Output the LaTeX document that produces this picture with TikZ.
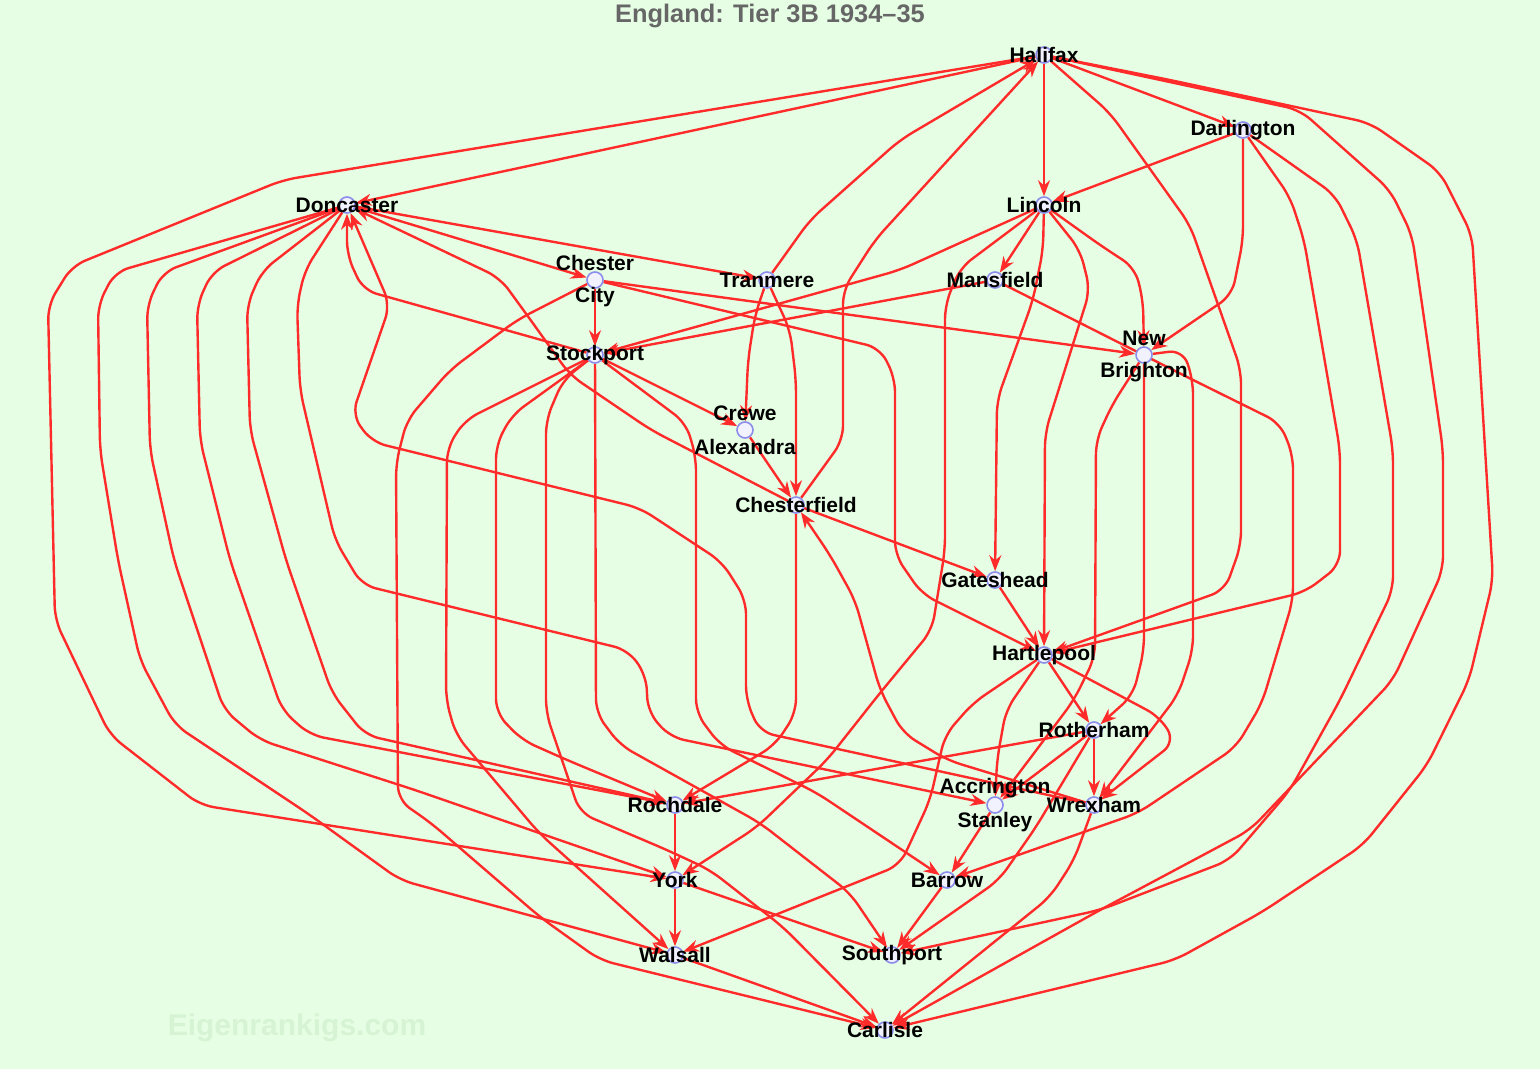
\documentclass[tikz,border=0pt]{standalone}
\usepackage{fontspec}
\setmainfont{Liberation Sans}
\usetikzlibrary{arrows.meta}
\definecolor{bgreen}{HTML}{E6FFE4}
\definecolor{gred}{HTML}{FF2B2B}
\definecolor{ring}{HTML}{8C8CEB}
\definecolor{wgreen}{HTML}{D6F3D4}
\pgfdeclarelayer{back}
\pgfsetlayers{back,main}
\tikzset{
  team/.style={circle,draw=ring,fill=white!95!blue,line width=0.8pt,minimum size=8pt,inner sep=0pt},
  lbl/.style={font=\bfseries\fontsize{10.5}{12}\selectfont,inner sep=0pt,text=black},
  game/.style={draw=gred,line width=1.2pt,rounded corners=7pt,-{Stealth[length=8pt,width=6pt]}},
  heading/.style={font=\bfseries\fontsize{12.7}{14}\selectfont,text=black!60,inner sep=0pt},
  wmark/.style={font=\bfseries\fontsize{15}{17}\selectfont,text=wgreen,inner sep=0pt},
}
\begin{document}
\begin{tikzpicture}[x=0.5pt,y=-0.5pt]
\begin{pgfonlayer}{back}
  \fill[bgreen] (0,0) rectangle (1540,1069);
\end{pgfonlayer}
\useasboundingbox (0,0) rectangle (1540,1069);
\node[heading] (ttl) at (770,16) {England: Tier 3B 1934--35};
\node[wmark] (site) at (297,1028) {Eigenrankigs.com};

\node[team,label={[lbl]center:Halifax}] (hal) at (1044,55) {};
\node[team,label={[lbl]center:Darlington}] (dar) at (1243,130) {};
\node[team,label={[lbl]center:Doncaster}] (don) at (347,205) {};
\node[team,label={[lbl]center:Lincoln}] (lin) at (1044,205) {};
\node[team,label={[lbl,yshift=8.5pt]center:Chester},label={[lbl,yshift=-8.5pt]center:City}] (cci) at (595,280) {};
\node[team,label={[lbl]center:Tranmere}] (tra) at (767,280) {};
\node[team,label={[lbl]center:Mansfield}] (man) at (995,280) {};
\node[team,label={[lbl,yshift=8.5pt]center:New},label={[lbl,yshift=-8.5pt]center:Brighton}] (nbr) at (1144,355) {};
\node[team,label={[lbl]center:Stockport}] (sto) at (595,355) {};
\node[team,label={[lbl,yshift=8.5pt]center:Crewe},label={[lbl,yshift=-8.5pt]center:Alexandra}] (cre) at (745,430) {};
\node[team,label={[lbl]center:Chesterfield}] (chf) at (796,505) {};
\node[team,label={[lbl]center:Gateshead}] (gat) at (995,580) {};
\node[team,label={[lbl]center:Hartlepool}] (hpl) at (1044,655) {};
\node[team,label={[lbl]center:Rotherham}] (rot) at (1094,730) {};
\node[team,label={[lbl,yshift=8.5pt]center:Accrington},label={[lbl,yshift=-8.5pt]center:Stanley}] (asa) at (995,805) {};
\node[team,label={[lbl]center:Wrexham}] (wre) at (1094,805) {};
\node[team,label={[lbl]center:Rochdale}] (roc) at (675,805) {};
\node[team,label={[lbl]center:York}] (yor) at (675,880) {};
\node[team,label={[lbl]center:Barrow}] (bar) at (947,880) {};
\node[team,label={[lbl]center:Walsall}] (wal) at (675,955) {};
\node[team,label={[lbl]center:Southport}] (spo) at (892,955) {};
\node[team,label={[lbl]center:Carlisle}] (cal) at (885,1030) {};

\begin{pgfonlayer}{back}
\draw[game] (hal) -- (lin);
\draw[game] (hal) -- (dar);
\draw[game] (hal) -- (don);
\draw[game] (hal) -- (283,180) -- (72,266) -- (48,305) -- (55,620) -- (110,735) -- (200,805) -- (yor);
\draw[game] (hal) -- (1110,113) -- (1190,225) -- (1241,370) -- (1241,545) -- (1225,590) -- (hpl);
\draw[game] (hal) -- (1300,110) -- (1390,190) -- (1412,235) -- (1443,450) -- (1443,570) -- (1393,680) -- (1250,830) -- (1100,910) -- (cal);
\draw[game] (hal) -- (1170,80) -- (1370,123) -- (1440,172) -- (1472,235) -- (1493,580) -- (1469,680) -- (1427,765) -- (1363,845) -- (1262,912) -- (1175,960) -- (cal);
\draw[game] (dar) -- (lin);
\draw[game] (dar) -- (1243,240) -- (1232,295) -- (nbr);
\draw[game] (dar) -- (1290,197) -- (1304,240) -- (1340,450) -- (1340,565) -- (1305,592) -- (hpl);
\draw[game] (dar) -- (1335,195) -- (1357,240) -- (1393,450) -- (1393,590) -- (1340,700) -- (1290,790) -- (1230,860) -- (1100,910) -- (spo);
\draw[game] (tra) -- (810,220) -- (900,140) -- (hal);
\draw[game] (chf) -- (843,440) -- (843,290) -- (875,240) -- (hal);
\draw[game] (don) -- (cci);
\draw[game] (don) -- (tra);
\draw[game] (chf) -- (651,430) -- (570,375) -- (527,315) -- (500,278) -- (don);
\draw[game] (wre) -- (760,732) -- (746,700) -- (746,600) -- (722,562) -- (640,508) -- (372,442) -- (352,415) -- (390,305) -- (don);
\draw[game] (sto) -- (363,290) -- (347,255) -- (don);
\draw[game] (don) -- (115,272) -- (98,305) -- (100,450) -- (118,560) -- (140,660) -- (175,725) -- (310,815) -- (400,880) -- (wal);
\draw[game] (don) -- (163,272) -- (147,305) -- (150,450) -- (174,560) -- (224,710) -- (260,740) -- (415,790) -- (yor);
\draw[game] (don) -- (212,272) -- (197,305) -- (200,440) -- (230,560) -- (282,710) -- (310,735) -- (477,767) -- (roc);
\draw[game] (don) -- (262,271) -- (247,305) -- (250,430) -- (286,560) -- (332,693) -- (365,735) -- (roc);
\draw[game] (don) -- (305,270) -- (297,305) -- (300,390) -- (335,540) -- (362,585) -- (628,650) -- (646,675) -- (648,712) -- (670,737) -- (asa);
\draw[game] (cci) -- (sto);
\draw[game] (cci) -- (nbr);
\draw[game] (cci) -- (880,348) -- (895,378) -- (895,555) -- (922,594) -- (hpl);
\draw[game] (cci) -- (517,320) -- (450,370) -- (407,420) -- (396,463) -- (398,800) -- (431,823) -- (540,917) -- (600,960) -- (cal);
\draw[game] (lin) -- (man);
\draw[game] (lin) -- (900,270) -- (sto);
\draw[game] (lin) -- (960,268) -- (945,305) -- (945,550) -- (932,630) -- (880,693) -- (827,760) -- (757,827) -- (yor);
\draw[game] (lin) -- (1043,250) -- (1033,300) -- (997,400) -- (gat);
\draw[game] (lin) -- (1080,250) -- (1090,290) -- (1045,433) -- (hpl);
\draw[game] (lin) -- (1100,245) -- (1135,268) -- (1143,300) -- (nbr);
\draw[game] (man) -- (sto);
\draw[game] (man) -- (1187,377) -- (1280,423) -- (1293,455) -- (1293,600) -- (1262,703) -- (1236,747) -- (1138,813) -- (bar);
\draw[game] (tra) -- (755,315) -- (748,360) -- (cre);
\draw[game] (tra) -- (790,330) -- (796,380) -- (chf);
\draw[game] (sto) -- (cre);
\draw[game] (cre) -- (chf);
\draw[game] (sto) -- (465,420) -- (447,448) -- (446,700) -- (456,735) -- (539,833) -- (wal);
\draw[game] (sto) -- (512,415) -- (496,445) -- (496,713) -- (522,740) -- (567,760) -- (roc);
\draw[game] (sto) -- (563,380) -- (546,420) -- (546,713) -- (580,813) -- (667,850) -- (710,870) -- (783,927) -- (cal);
\draw[game] (sto) -- (596,713) -- (620,745) -- (760,823) -- (850,893) -- (spo);
\draw[game] (sto) -- (686,423) -- (696,457) -- (696,713) -- (720,745) -- (817,793) -- (bar);
\draw[game] (chf) -- (gat);
\draw[game] (chf) -- (796,713) -- (775,745) -- (roc);
\draw[game] (wre) -- (947,760) -- (903,733) -- (880,690) -- (855,600) -- (830,555) -- (chf);
\draw[game] (gat) -- (hpl);
\draw[game] (nbr) -- (1144,650) -- (1133,695) -- (rot);
\draw[game] (nbr) -- (1183,350) -- (1193,380) -- (1193,650) -- (1178,695) -- (wre);
\draw[game] (nbr) -- (1112,405) -- (1096,440) -- (1095,657) -- (1074,700) -- (asa);
\draw[game] (hpl) -- (rot);
\draw[game] (hpl) -- (1006,710) -- (997,760) -- (asa);
\draw[game] (hpl) -- (1160,717) -- (1175,742) -- (wre);
\draw[game] (hpl) -- (973,703) -- (945,735) -- (930,800) -- (900,865) -- (wal);
\draw[game] (rot) -- (roc);
\draw[game] (rot) -- (asa);
\draw[game] (rot) -- (wre);
\draw[game] (rot) -- (1036,827) -- (999,880) -- (spo);
\draw[game] (asa) -- (bar);
\draw[game] (roc) -- (yor);
\draw[game] (yor) -- (wal);
\draw[game] (yor) -- (spo);
\draw[game] (bar) -- (spo);
\draw[game] (wal) -- (cal);
\draw[game] (wre) -- (1074,860) -- (1050,897) -- (cal);
\end{pgfonlayer}
\end{tikzpicture}
\end{document}
